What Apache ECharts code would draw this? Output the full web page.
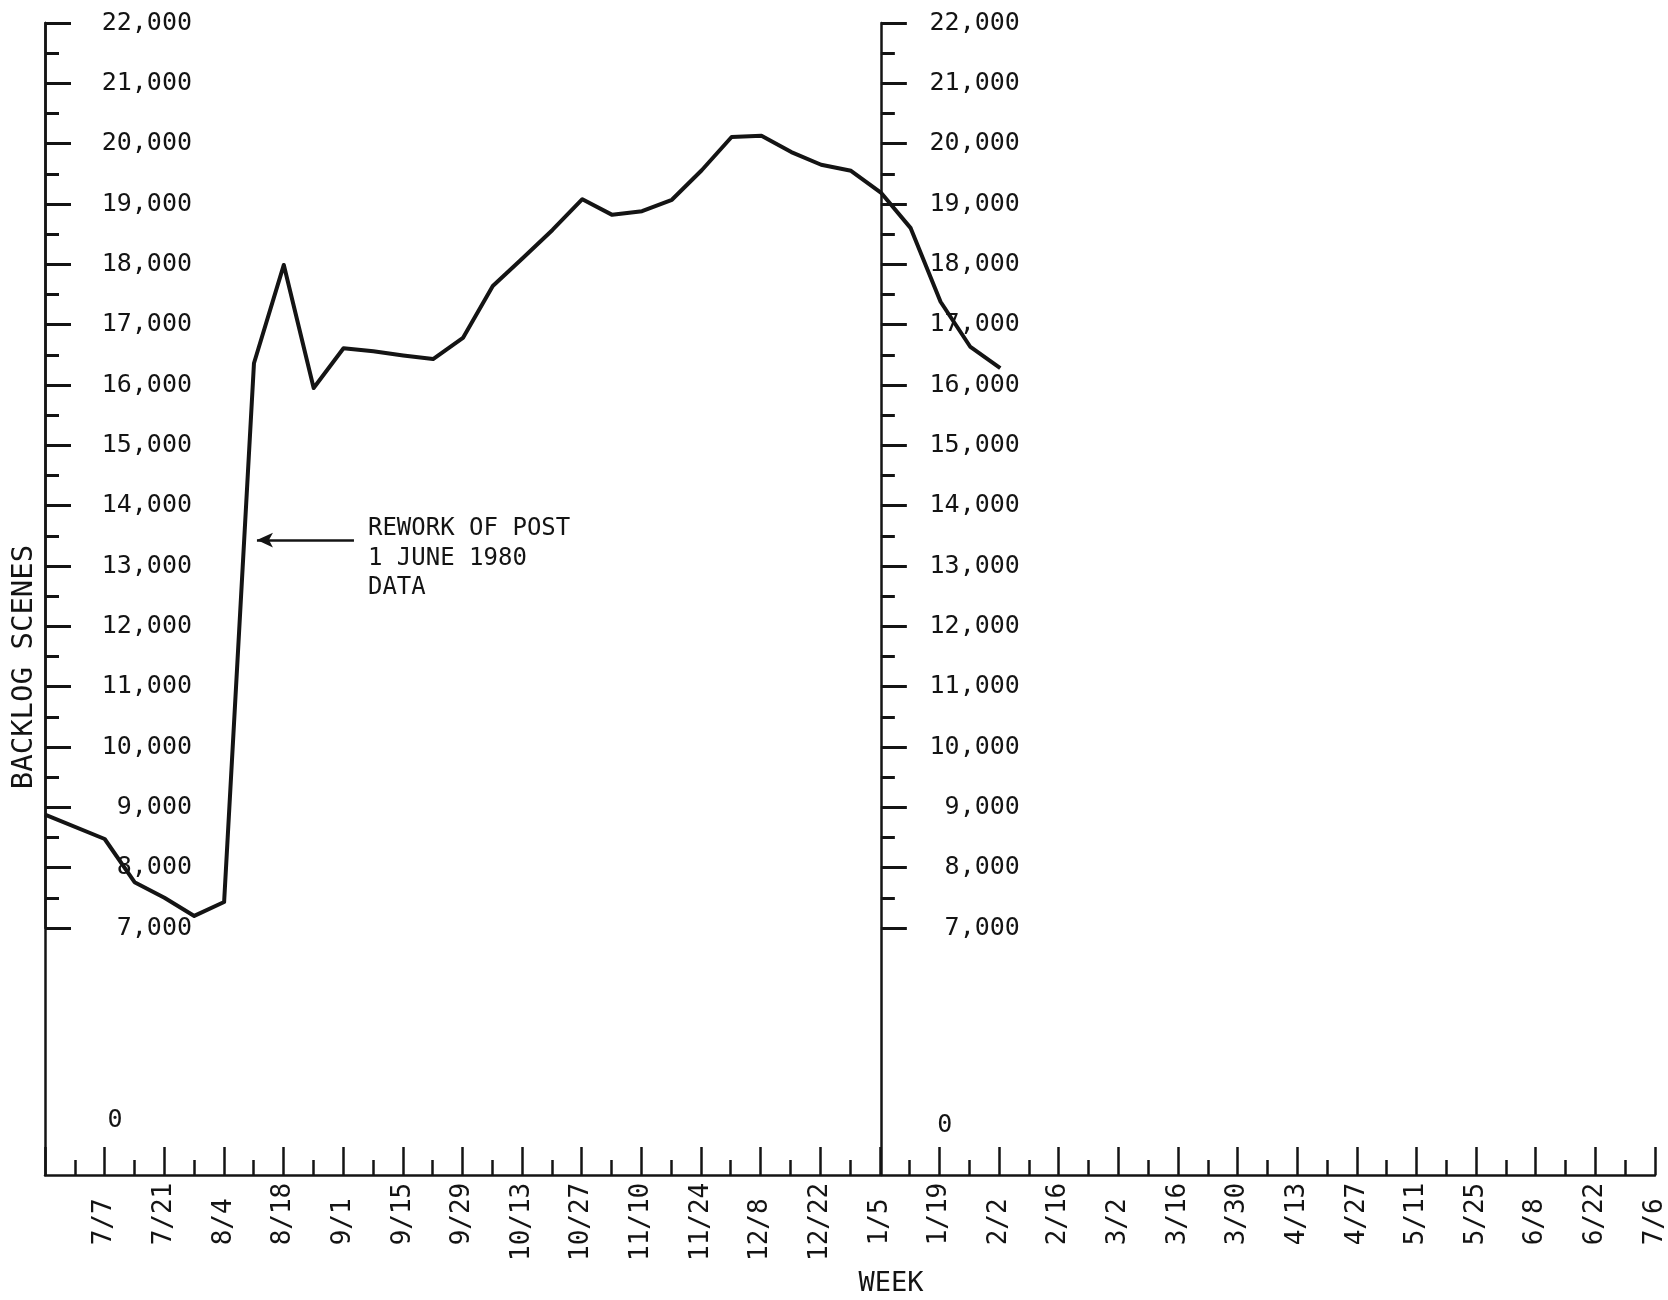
<!DOCTYPE html>
<html>
<head>
<meta charset="utf-8">
<script src="https://cdn.jsdelivr.net/npm/echarts@6/dist/echarts.min.js"></script>
<style>
html,body{margin:0;padding:0;background:#fff;}
#chart{width:1668px;height:1300px;}
</style>
</head>
<body>
<div id="chart"></div>
<script>
// ---- data (week index: 0 = 7/7) ----
const WEEKS = [-2, 0, 1, 2, 3, 4, 5, 6, 7, 8, 9, 10, 11, 12, 13, 14, 15, 16, 17, 18, 19, 20, 21, 22, 23, 24, 25, 26, 27, 28, 29, 30];
const BACKLOG = [8880, 8475, 7760, 7500, 7200, 7430, 16360, 17990, 15950, 16610, 16560, 16490, 16430, 16780, 17640, 18100, 18570, 19080, 18820, 18880, 19070, 19560, 20110, 20130, 19860, 19650, 19550, 19190, 18600, 17380, 16630, 16280];
const WEEK_LABELS = ['7/7','7/21','8/4','8/18','9/1','9/15','9/29','10/13','10/27','11/10','11/24','12/8','12/22','1/5','1/19','2/2','2/16','3/2','3/16','3/30','4/13','4/27','5/11','5/25','6/8','6/22','7/6'];
const Y_MIN = 7000, Y_MAX = 22000, Y_STEP = 1000;
const X_MIN = -2, X_MAX = 52, X_STEP = 2;
const RIGHT_AXIS_WEEK = 26;
const ZERO_LABEL = '0';
const Y_TITLE = 'BACKLOG SCENES';
const X_TITLE = 'WEEK';
const NOTE_LINES = ['REWORK OF POST', '1 JUNE 1980', 'DATA'];
const NOTE_FROM = [8.35, 13430];
const NOTE_TO = [5.1, 13430];

// ---- layout ----
const INK = '#141414';
const MONO = "'DejaVu Sans Mono', monospace";
const GL = 45, GW = 1612, TOP = 23;
const DATA_H = 905;      // 22,000 -> 7,000
const FULL_H = 1152;     // down to the week axis
const RL = GL + (RIGHT_AXIS_WEEK - X_MIN) / (X_MAX - X_MIN) * GW;

const fmtNum = v => String(v).replace(/\B(?=(\d{3})+(?!\d))/g, ',');
const fmtWeek = v => {
  if (v < 0) return '';
  const s = WEEK_LABELS[Math.round(v / X_STEP)];
  if (!s) return '';
  return (s.split('/')[0].length === 1 ? ' ' : '') + s;
};

function valueAxis(grid, margin) {
  return {
    type: 'value', gridIndex: grid, min: Y_MIN, max: Y_MAX, interval: Y_STEP,
    axisLine: {show: true, onZero: false, lineStyle: {color: INK, width: 2.5}},
    axisTick: {show: true, inside: true, length: 26, lineStyle: {color: INK, width: 3}},
    minorTick: {show: true, splitNumber: 2, length: 14, lineStyle: {color: INK, width: 3}},
    axisLabel: {inside: true, align: 'right', margin: margin, color: INK, fontFamily: MONO, fontSize: 25, formatter: fmtNum},
    splitLine: {show: false}, minorSplitLine: {show: false}
  };
}
function lineOnlyAxis(grid) {
  return {
    type: 'value', gridIndex: grid, min: 0, max: 1,
    axisLine: {show: true, onZero: false, lineStyle: {color: INK, width: 2.5}},
    axisTick: {show: false}, axisLabel: {show: false}, splitLine: {show: false}
  };
}
function hiddenX(grid) {
  return {type: 'value', gridIndex: grid, min: X_MIN, max: X_MAX, show: false, splitLine: {show: false}};
}

const chart = echarts.init(document.getElementById('chart'), null, {renderer: 'canvas'});
chart.setOption({
  animation: false,
  backgroundColor: '#ffffff',
  grid: [
    {left: GL, top: TOP, width: GW, height: DATA_H},
    {left: GL, top: TOP, width: GW, height: FULL_H},
    {left: RL, top: TOP, width: 200, height: FULL_H},
    {left: RL, top: TOP, width: 200, height: DATA_H}
  ],
  xAxis: [
    hiddenX(0),
    {
      type: 'value', gridIndex: 1, min: X_MIN, max: X_MAX, interval: X_STEP, position: 'bottom',
      axisLine: {show: true, onZero: false, lineStyle: {color: INK, width: 2.5}},
      axisTick: {show: true, inside: true, length: 28, lineStyle: {color: INK, width: 2.5}},
      minorTick: {show: true, splitNumber: 2, length: 15, lineStyle: {color: INK, width: 2.5}},
      axisLabel: {rotate: 90, align: 'left', margin: 86, color: INK, fontFamily: MONO, fontSize: 26, formatter: fmtWeek, showMinLabel: true, showMaxLabel: true},
      splitLine: {show: false}, minorSplitLine: {show: false}
    },
    hiddenX(2),
    hiddenX(3)
  ],
  yAxis: [
    valueAxis(0, 147),
    lineOnlyAxis(1),
    lineOnlyAxis(2),
    Object.assign(valueAxis(3, 139), {axisLine: {show: false, onZero: false}})
  ],
  series: [{
    type: 'line', xAxisIndex: 0, yAxisIndex: 0,
    data: WEEKS.map((w, i) => [w, BACKLOG[i]]),
    symbol: 'none', clip: false,
    lineStyle: {color: INK, width: 4, join: 'round'},
    markLine: {
      silent: true, animation: false,
      symbol: ['none', 'arrow'], symbolSize: [11, 16],
      lineStyle: {color: INK, width: 2.5, type: 'solid'},
      label: {show: false},
      data: [[{coord: NOTE_FROM}, {coord: NOTE_TO}]]
    }
  }]
});

const tail = chart.convertToPixel({xAxisIndex: 0, yAxisIndex: 0}, NOTE_FROM);
const txt = (text, x, y, size, extra) => Object.assign({
  type: 'text', x: x, y: y, silent: true,
  style: {text: text, fill: INK, font: size + 'px ' + MONO,
          align: 'center', verticalAlign: 'middle', textAlign: 'center', textVerticalAlign: 'middle'}
}, extra || {});

const g = [];
NOTE_LINES.forEach((s, i) => {
  const t = txt(s, tail[0] + 14, tail[1] - 11 + i * 29.5, 24);
  t.style.align = 'left'; t.style.textAlign = 'left';
  g.push(t);
});
g.push(txt(ZERO_LABEL, GL + 70, 1120, 25));
g.push(txt(ZERO_LABEL, RL + 64, 1125, 25));
g.push(txt(Y_TITLE, 24, 667, 29, {rotation: Math.PI / 2}));
g.push(txt(X_TITLE, 891, 1284, 27));
chart.setOption({graphic: g});
</script>
</body>
</html>
